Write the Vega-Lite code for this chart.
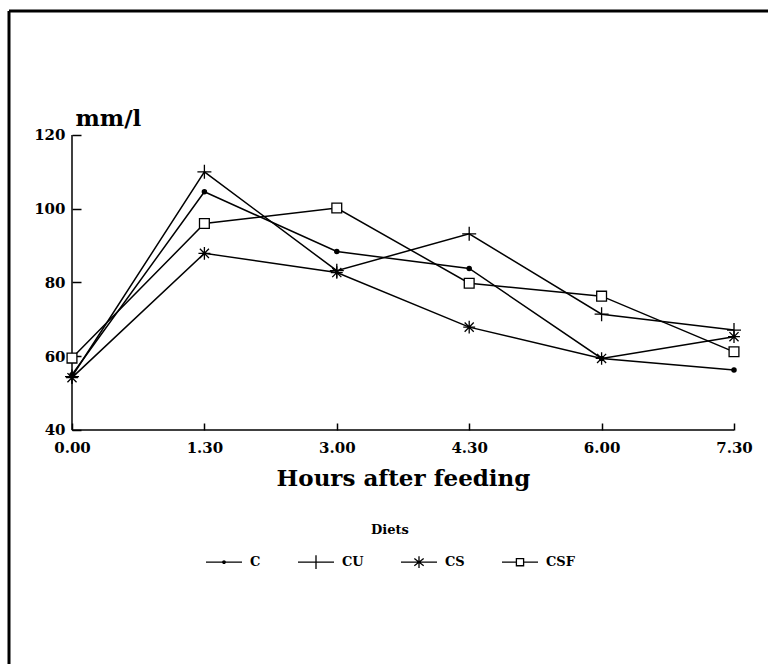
{
  "$schema": "https://vega.github.io/schema/vega-lite/v6.json",
  "width": 759,
  "height": 653,
  "autosize": {"type": "none"},
  "padding": {"left": 9, "top": 11, "right": 0, "bottom": 0},
  "background": "white",
  "config": {"view": {"stroke": null}, "font": "DejaVu Serif"},
  "data": {"values": [
    {"Diet": "C", "Hours": 0, "Value": 55},
    {"Diet": "C", "Hours": 1.5, "Value": 104.6},
    {"Diet": "C", "Hours": 3, "Value": 88.4},
    {"Diet": "C", "Hours": 4.5, "Value": 83.8},
    {"Diet": "C", "Hours": 6, "Value": 59.4},
    {"Diet": "C", "Hours": 7.5, "Value": 56.3},
    {"Diet": "CU", "Hours": 0, "Value": 54.5},
    {"Diet": "CU", "Hours": 1.5, "Value": 110},
    {"Diet": "CU", "Hours": 3, "Value": 83.2},
    {"Diet": "CU", "Hours": 4.5, "Value": 93.2},
    {"Diet": "CU", "Hours": 6, "Value": 71.4},
    {"Diet": "CU", "Hours": 7.5, "Value": 67.1},
    {"Diet": "CS", "Hours": 0, "Value": 54.2},
    {"Diet": "CS", "Hours": 1.5, "Value": 87.9},
    {"Diet": "CS", "Hours": 3, "Value": 82.7},
    {"Diet": "CS", "Hours": 4.5, "Value": 67.9},
    {"Diet": "CS", "Hours": 6, "Value": 59.4},
    {"Diet": "CS", "Hours": 7.5, "Value": 65.3},
    {"Diet": "CSF", "Hours": 0, "Value": 59.5},
    {"Diet": "CSF", "Hours": 1.5, "Value": 96},
    {"Diet": "CSF", "Hours": 3, "Value": 100.2},
    {"Diet": "CSF", "Hours": 4.5, "Value": 79.8},
    {"Diet": "CSF", "Hours": 6, "Value": 76.3},
    {"Diet": "CSF", "Hours": 7.5, "Value": 61.2}
  ]},
  "resolve": {"scale": {"shape": "independent"}, "legend": {"shape": "independent"}},
  "layer": [
    {
      "data": {"values": [{}]},
      "mark": {"type": "rule", "stroke": "black", "strokeWidth": 3},
      "encoding": {
        "x": {"datum": -0.7137, "type": "quantitative"},
        "y": {"datum": -23.458, "type": "quantitative"},
        "y2": {"datum": 153.627}
      }
    },
    {
      "data": {"values": [{}]},
      "mark": {"type": "rule", "stroke": "black", "strokeWidth": 3},
      "encoding": {
        "y": {"datum": 153.627, "type": "quantitative"},
        "x": {"datum": -0.7137, "type": "quantitative"},
        "x2": {"datum": 7.8852}
      }
    },
    {
      "data": {"values": [{}]},
      "mark": {"type": "rule", "stroke": "black", "strokeWidth": 1.5},
      "encoding": {
        "x": {"datum": 0, "type": "quantitative"},
        "y": {"datum": 40, "type": "quantitative"},
        "y2": {"datum": 120}
      }
    },
    {
      "data": {"values": [{}]},
      "mark": {"type": "rule", "stroke": "black", "strokeWidth": 1.5},
      "encoding": {
        "y": {"datum": 40, "type": "quantitative"},
        "x": {"datum": 0, "type": "quantitative"},
        "x2": {"datum": 7.5}
      }
    },
    {
      "mark": {"type": "line", "stroke": "black", "strokeWidth": 1.5},
      "encoding": {
        "x": {
          "field": "Hours", "type": "quantitative",
          "scale": {"domain": [-0.7137, 7.8852], "nice": false, "zero": false},
          "axis": {
            "values": [0, 1.5, 3, 4.5, 6, 7.5],
            "labelExpr": "floor(datum.value) + (datum.value % 1 ? '.30' : '.00')",
            "offset": -234,
            "domain": false,
            "grid": false,
            "ticks": true,
            "tickSize": -7,
            "tickColor": "black",
            "tickWidth": 1.5,
            "labelFont": "DejaVu Serif",
            "labelFontWeight": "bold",
            "labelFontSize": 15,
            "labelColor": "black",
            "labelPadding": 17,
            "labelFlush": false,
            "labelOverlap": false,
            "title": "Hours after feeding",
            "titleFont": "DejaVu Serif",
            "titleFontSize": 23,
            "titleFontWeight": "bold",
            "titleColor": "black",
            "titleX": 394,
            "titleY": 55,
            "titleAlign": "center",
            "titleBaseline": "alphabetic"
          }
        },
        "y": {
          "field": "Value", "type": "quantitative",
          "scale": {"domain": [-23.458, 153.627], "nice": false, "zero": false},
          "axis": {
            "values": [40, 60, 80, 100, 120],
            "offset": -63,
            "domain": false,
            "grid": false,
            "tickSize": -9,
            "tickColor": "black",
            "tickWidth": 1.5,
            "labelFont": "DejaVu Serif",
            "labelFontWeight": "bold",
            "labelFontSize": 15,
            "labelColor": "black",
            "labelPadding": 16,
            "labelFlush": false,
            "labelOverlap": false,
            "title": "mm/l",
            "titleFont": "DejaVu Serif",
            "titleFontSize": 23,
            "titleFontWeight": "bold",
            "titleColor": "black",
            "titleAngle": 0,
            "titleX": 3,
            "titleY": 114,
            "titleAlign": "left",
            "titleBaseline": "alphabetic"
          }
        },
        "detail": {"field": "Diet"}
      }
    },
    {
      "mark": {"type": "point", "filled": true, "stroke": "black", "strokeWidth": 1.3, "size": 196, "opacity": 1},
      "encoding": {
        "x": {"field": "Hours", "type": "quantitative"},
        "y": {"field": "Value", "type": "quantitative"},
        "shape": {
          "field": "Diet", "type": "nominal",
          "scale": {
            "domain": ["C", "CU", "CS", "CSF"],
            "range": [
              "M0.3,0A0.3,0.3,0,1,1,-0.3,0A0.3,0.3,0,1,1,0.3,0Z",
              "M-1,0L1,0M0,-1L0,1",
              "M-0.85,0L0.85,0M0,-0.9L0,0.9M-0.65,-0.65L0.65,0.65M-0.65,0.65L0.65,-0.65",
              "M-0.7,-0.7L0.7,-0.7L0.7,0.7L-0.7,0.7Z"
            ]
          },
          "legend": null
        },
        "fill": {"condition": {"test": "datum.Diet === 'C'", "value": "black"}, "value": "white"}
      }
    },
    {
      "mark": {"type": "point", "filled": false, "color": "black", "strokeWidth": 1.3, "opacity": 0},
      "encoding": {
        "x": {"field": "Hours", "type": "quantitative"},
        "y": {"field": "Value", "type": "quantitative"},
        "shape": {
          "field": "Diet", "type": "nominal",
          "scale": {
            "domain": ["C", "CU", "CS", "CSF"],
            "range": [
              "M0,-0.45L0,-0.45M0,0.45L0,0.45M-1,0L1,0M0.07,0A0.07,0.07,0,1,1,-0.07,0A0.07,0.07,0,1,1,0.07,0",
              "M0,-0.45L0,-0.45M0,0.45L0,0.45M-1,0L1,0M0,-0.38L0,0.38",
              "M0,-0.45L0,-0.45M0,0.45L0,0.45M-1,0L1,0M0,-0.33L0,0.33M-0.26,-0.2L0.26,0.2M-0.26,0.2L0.26,-0.2",
              "M0,-0.45L0,-0.45M0,0.45L0,0.45M-1,0L-0.2,0M0.2,0L1,0M-0.2,-0.2L0.2,-0.2L0.2,0.2L-0.2,0.2Z"
            ]
          },
          "legend": {
            "orient": "none",
            "direction": "horizontal",
            "legendX": 196,
            "legendY": 513,
            "title": "Diets",
            "titleFont": "DejaVu Serif",
            "titleFontSize": 13,
            "titleFontWeight": "bold",
            "titleColor": "black",
            "titleAnchor": "middle",
            "titlePadding": 6,
            "labelFont": "DejaVu Serif",
            "labelFontSize": 13,
            "labelFontWeight": "bold",
            "labelColor": "black",
            "labelBaseline": "middle",
            "labelOffset": 7,
            "columnPadding": 34,
            "symbolSize": 1296,
            "symbolStrokeWidth": 1.3,
            "symbolStrokeColor": "black",
            "symbolOpacity": 1
          }
        }
      }
    }
  ]
}
